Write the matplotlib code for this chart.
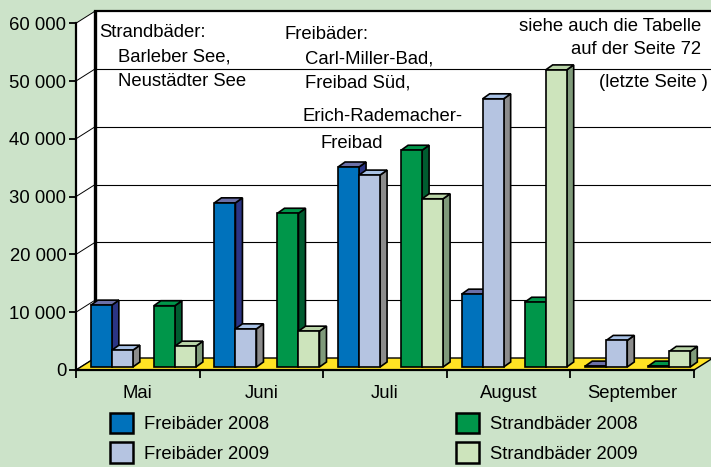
import matplotlib
matplotlib.use("Agg")
from matplotlib import pyplot as plt
from matplotlib.patches import Polygon, Patch

plt.rcParams['font.family'] = ['Liberation Sans', 'DejaVu Sans']

# Daten: Besucher der Bäder je Monat
monate = ["Mai", "Juni", "Juli", "August", "September"]
freibad_2008 = [10700, 28400, 34600, 12600, 150]
freibad_2009 = [2900, 6600, 33200, 46400, 4600]
strand_2008 = [10600, 26600, 37500, 11200, 150]
strand_2009 = [3600, 6200, 29100, 51400, 2700]
serien = ["Freibäder 2008", "Freibäder 2009", "Strandbäder 2008", "Strandbäder 2009"]

bg = '#cce3c9'
# (vorne, oben, seite)
farben = [
    ('#0072bc', '#6b70a8', '#2b3585'),
    ('#b5c4e1', '#a9c2e6', '#8c8c8c'),
    ('#00964a', '#00964a', '#005c30'),
    ('#cde4bc', '#b9d4a8', '#7f9a7a'),
]

W, H = 711, 467
fig = plt.figure(figsize=(W / 100, H / 100), dpi=100, facecolor=bg)

# Achse: vorne x 76..711 px, y 370..11 px
ax = fig.add_axes([76 / W, (H - 370) / H, (W - 76) / W, (370 - 11) / H])
px_x = 1 / 123.6          # Kategorien pro Pixel
px_y = 10000 / 57.8       # Werte pro Pixel
ax.set_xlim(0, 635 * px_x)
ax.set_ylim(0, 359 * px_y)
ax.patch.set_alpha(0)

DX, DY = 19 * px_x, 12 * px_y      # Tiefe Wand/Boden
bdx, bdy = 7 * px_x, 5 * px_y      # Tiefe der Säulen
basis = 3 * px_y
ymax = 60000
n = len(monate)

# Seitenwand und Rückwand
ax.add_patch(Polygon([(0, 0), (DX, DY), (DX, ymax + DY), (0, ymax)], closed=True,
                     facecolor='white', edgecolor='none', zorder=1))
ax.add_patch(Polygon([(DX, DY), (635 * px_x, DY), (635 * px_x, ymax + DY), (DX, ymax + DY)],
                     closed=True, facecolor='white', edgecolor='none', zorder=1))
for v in range(0, ymax + 1, 10000):
    ax.plot([0, DX], [v, v + DY], color='black', lw=0.7, zorder=2, clip_on=False)
    if 0 < v < ymax:
        ax.plot([DX, 635 * px_x], [v + DY, v + DY], color='black', lw=0.8, zorder=2)
ax.plot([DX, 635 * px_x], [ymax + DY, ymax + DY], color='black', lw=1.6, zorder=2, clip_on=False)
ax.plot([DX, DX], [DY, ymax + DY], color='black', lw=2.4, zorder=2)

# Boden
ax.add_patch(Polygon([(0, 0), (n, 0), (n + DX, DY), (DX, DY)], closed=True,
                     facecolor='#ffe324', edgecolor='black', lw=1, zorder=3, clip_on=False))

# Säulen
versatz = [0.12, 0.29, 0.63, 0.80]
breite = 0.17
werte = [freibad_2008, freibad_2009, strand_2008, strand_2009]
z = 4
for i in range(n):
    for s in range(4):
        x0 = i + versatz[s]
        x1 = x0 + breite
        y0 = basis
        y1 = basis + werte[s][i]
        vorne, oben, seite = farben[s]
        kw = dict(closed=True, edgecolor='black', lw=1.2, zorder=z, clip_on=False)
        ax.add_patch(Polygon([(x1, y0), (x1 + bdx, y0 + bdy), (x1 + bdx, y1 + bdy), (x1, y1)],
                             facecolor=seite, **kw))
        ax.add_patch(Polygon([(x0, y1), (x1, y1), (x1 + bdx, y1 + bdy), (x0 + bdx, y1 + bdy)],
                             facecolor=oben, **kw))
        ax.add_patch(Polygon([(x0, y0), (x1, y0), (x1, y1), (x0, y1)],
                             facecolor=vorne, **kw))
        z += 1

# Achsen
for sp in ['top', 'right']:
    ax.spines[sp].set_visible(False)
ax.spines['left'].set_bounds(0, ymax)
ax.spines['bottom'].set_bounds(0, n)
ax.spines['left'].set_linewidth(1.6)
ax.spines['bottom'].set_linewidth(1.6)
ax.spines['left'].set_zorder(50)
ax.spines['bottom'].set_zorder(50)

yt = list(range(0, ymax + 1, 10000))
ax.set_yticks(yt, ["{:,}".format(v).replace(",", " ") for v in yt])
ax.tick_params(axis='y', length=5, width=1.3, pad=2, labelsize=13.3)
ax.set_xticks([i + 0.5 for i in range(n)], monate)
ax.set_xticks(range(n + 1), minor=True)
ax.tick_params(axis='x', which='major', length=0, pad=11, labelsize=13.3)
ax.tick_params(axis='x', which='minor', length=6, width=1.3)

# Beschriftungen im Diagramm
def txt(x, y, s, ha='left'):
    fig.text(x / W, 1 - y / H, s, ha=ha, va='baseline', fontsize=13.3)

txt(99, 37, "Strandbäder:")
txt(118, 61, "Barleber See,")
txt(118, 86, "Neustädter See")
txt(285, 39, "Freibäder:")
txt(305, 63, "Carl-Miller-Bad,")
txt(305, 88, "Freibad Süd,")
txt(303, 121, "Erich-Rademacher-")
txt(321, 148, "Freibad")
txt(701, 31, "siehe auch die Tabelle", ha='right')
txt(701, 54, "auf der Seite 72", ha='right')
txt(708, 87, "(letzte Seite )", ha='right')

# Legende
handles = [Patch(facecolor=f[0], edgecolor='black', lw=1.8) for f in farben]
fig.legend(handles, serien, ncol=2, loc='upper left', bbox_to_anchor=(110 / W, 1 - 413 / H),
           frameon=False, fontsize=13.3, borderpad=0, handlelength=1.25, handleheight=1.3,
           handletextpad=0.6, labelspacing=0.5, columnspacing=10.1, borderaxespad=0)

plt.savefig("out.png", dpi=100, facecolor=bg)
